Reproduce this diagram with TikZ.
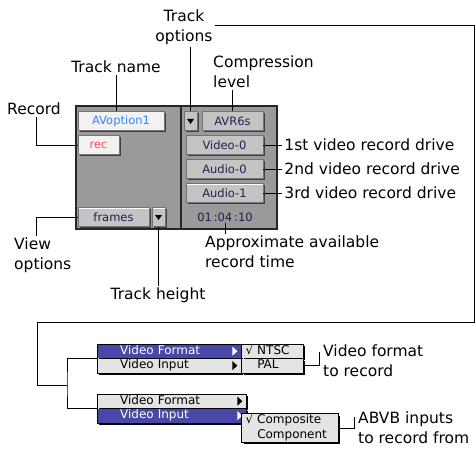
\documentclass[tikz,border=0pt]{standalone}
\usepackage{fontspec}
\setmainfont{DejaVu Sans}
\usetikzlibrary{positioning,shadows}

\definecolor{panelgray}{HTML}{9A9A9A}
\definecolor{btngray}{HTML}{C4C4C4}
\definecolor{btnwhite}{HTML}{F2F2F2}
\definecolor{uinavy}{HTML}{202050}
\definecolor{nameblue}{HTML}{2F86FF}
\definecolor{recred}{HTML}{FF4D4D}
\definecolor{menublue}{HTML}{4848A8}
\definecolor{menugray}{HTML}{E4E4E4}

\tikzset{
	lbl/.style={inner sep=2pt, align=left, font=\fontsize{15.5}{20}\selectfont},
	btn/.style={draw=black!55, fill=btngray, text=uinavy, inner sep=0pt,
		minimum height=19pt, font=\fontsize{11.5}{13}\selectfont,
		drop shadow={shadow xshift=1.5pt, shadow yshift=-1.5pt, fill=black!75, opacity=1},
		path picture={\draw[white, line width=2pt] (path picture bounding box.south west)
			-- (path picture bounding box.north west) -- (path picture bounding box.north east);}},
	panel/.style={draw=black!85, line width=1.5pt, fill=panelgray, inner sep=0pt,
		minimum width=201pt, minimum height=123pt},
	mrow/.style={fill=menugray, text=black, inner xsep=23pt, inner ysep=0pt,
		minimum height=14pt, text height=8.5pt, text depth=2.5pt, align=left,
		font=\fontsize{12}{14}\selectfont, anchor=north west,
		drop shadow={shadow xshift=2pt, shadow yshift=-2pt, fill=black, opacity=1}},
	mrowhi/.style={mrow, fill=menublue, text=white},
	msub/.style={mrow, inner xsep=4pt}
}

\begin{document}
\begin{tikzpicture}[x=1pt, y=-1pt]
	\useasboundingbox (0,0) rectangle (476,449);

	\node[panel] (panel) at (176.5,167.5) {};
	\draw[black!85, line width=1.2pt] (181,106) -- (181,229);

	\node[btn, fill=btnwhite, text=nameblue, minimum width=86pt] (avopt) at (121,121) {AVoption1};
	\node[btn, fill=btnwhite, text=recred, minimum width=41pt] (rec) at (98.5,145) {rec};
	\node[btn, minimum width=71pt] (frames) at (113.5,217) {frames};
	\node[btn, minimum width=13pt] (viewarr) at (158.5,217) {};
	\fill (viewarr.center) ++(-3.5,-2) -- ++(7,0) -- ++(-3.5,5) -- cycle;
	\node[btn, minimum width=13pt] (trkarr) at (190.5,121) {};
	\fill (trkarr.center) ++(-3.5,-2) -- ++(7,0) -- ++(-3.5,5) -- cycle;
	\node[btn, minimum width=61pt] (avr) at (232.5,121) {AVR6s};
	\node[btn, minimum width=77pt] (vid0) at (224.5,145) {Video-0};
	\node[btn, minimum width=77pt] (aud0) at (224.5,169) {Audio-0};
	\node[btn, minimum width=77pt] (aud1) at (224.5,193) {Audio-1};
	\node[text=uinavy, inner sep=1pt, font=\fontsize{11.5}{13}\selectfont] (rectime) at (225,217) {01\,:04\,:10};

	\node[lbl, anchor=north, align=center] (trackopt) at (184,8) {Track\\options};
	\node[lbl, anchor=north] (trackname) at (116,59) {Track name};
	\node[lbl, anchor=north west] (complevel) at (211,54) {Compression\\level};
	\node[lbl, anchor=north west] (recordlbl) at (5,101) {Record};
	\node[lbl, anchor=north west] (viewopt) at (12,236) {View\\options};
	\node[lbl, anchor=north] (trkheight) at (158,286) {Track height};
	\node[lbl, right=19pt of vid0] (drive1) {1st video record drive};
	\node[lbl, right=19pt of aud0] (drive2) {2nd video record drive};
	\node[lbl, right=19pt of aud1] (drive3) {3rd video record drive};
	\node[lbl, anchor=north west] (approx) at (203,234) {Approximate available\\record time};

	\draw (trkarr.north) -- (trkarr.north |- trackopt.south);
	\draw (trackname.south) -- (trackname.south |- avopt.north);
	\draw (avr.north) -- (avr.north |- complevel.south);
	\draw ([xshift=31pt]recordlbl.south west) |- (rec.west);
	\draw ([xshift=24pt]viewopt.north west) |- (frames.west);
	\draw (viewarr.south) -- (viewarr.south |- trkheight.north);
	\draw (vid0.east) -- (drive1.west);
	\draw (aud0.east) -- (drive2.west);
	\draw (aud1.east) -- (drive3.west);
	\draw (rectime.south) -- (rectime.south |- approx.north);

	\node[mrowhi, text width=98pt] (vf1) at (97,344) {Video Format};
	\node[mrow, text width=98pt] (vi1) at (vf1.south west) {Video Input};
	\fill[white] ([shift={(-9,-4.5)}]vf1.east) -- ++(0,9) -- ++(5,-4.5) -- cycle;
	\fill[black] ([shift={(-9,-4.5)}]vi1.east) -- ++(0,9) -- ++(5,-4.5) -- cycle;
	\draw (vf1.north west) rectangle (vi1.south east);
	\node[msub, text width=53pt] (ntsc) at (vf1.north east) {√ NTSC};
	\node[msub, text width=53pt] (pal) at (ntsc.south west) {\phantom{√ }PAL};
	\draw (ntsc.north west) rectangle (pal.south east);

	\node[mrow, text width=103pt] (vf2) at (97,394) {Video Format};
	\node[mrowhi, text width=103pt] (vi2) at (vf2.south west) {Video Input};
	\fill[black] ([shift={(-9,-4.5)}]vf2.east) -- ++(0,9) -- ++(5,-4.5) -- cycle;
	\fill[white] ([shift={(-9,-4.5)}]vi2.east) -- ++(0,9) -- ++(5,-4.5) -- cycle;
	\draw (vf2.north west) rectangle (vi2.south east);
	\node[msub, text width=88pt] (composite) at ([xshift=-5pt, yshift=-5pt]vi2.north east) {√ Composite};
	\node[msub, text width=88pt] (component) at (composite.south west) {\phantom{√ }Component};
	\draw (composite.north west) rectangle (component.south east);

	\node[lbl, anchor=north west] (vfmtlbl) at (321,343) {Video format\\to record};
	\node[lbl, anchor=north west] (abvblbl) at (356,410) {ABVB inputs\\to record from};
	\draw (pal.east) -| ([xshift=-2pt, yshift=-9pt]vfmtlbl.north west);
	\draw (composite.south east) -| ([xshift=-2pt, yshift=-7pt]abvblbl.north west);

	\coordinate (optbend) at (474,25);
	\coordinate (boxcorner) at (37,322);
	\coordinate (menujoin) at (67,385);
	\draw (trackopt.east |- optbend) -- (optbend) |- (boxcorner) |- (menujoin);
	\draw (vf1.south west) -| (menujoin) |- (vf2.south west);
\end{tikzpicture}
\end{document}
